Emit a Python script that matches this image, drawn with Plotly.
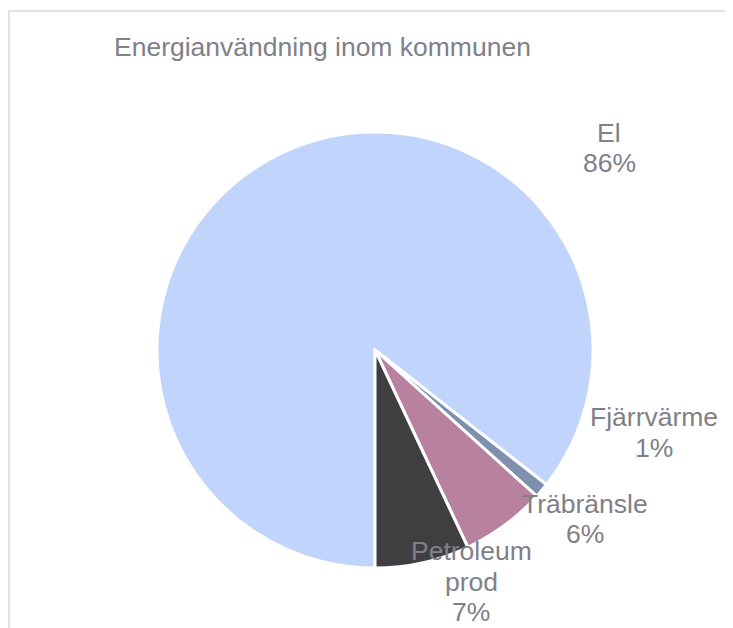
import plotly.graph_objects as go

# energy use by source (share of total, %), listed clockwise from 6 o'clock
labels = ["El", "Fjärrvärme", "Träbränsle", "Petroleum prod"]
label_lines = [["El"], ["Fjärrvärme"], ["Träbränsle"], ["Petroleum", "prod"]]
values = [85.6, 1.1, 6.3, 7.0]
colors = ["#c0d4fc", "#7f8fae", "#b7819f", "#3f3f42"]

title = "Energianvändning inom kommunen"

# page has an 8px body margin, so the figure is drawn 8px smaller
W, H = 725, 620
text_color = "#808089"
font = "Liberation Sans, Arial, sans-serif"
fsize = 26.5
line_gap = 30.5

# label anchor points in pixels (x centre, y of the last line)
label_pos = [(601, 155), (646, 440), (577, 526), (463, 604)]

cx, cy, r = 367, 342, 218

fig = go.Figure()
fig.add_trace(go.Pie(
    labels=labels,
    values=values,
    sort=False,
    direction="clockwise",
    rotation=180,
    marker=dict(colors=colors, line=dict(color="white", width=3)),
    textinfo="none",
    hoverinfo="label+percent",
    showlegend=False,
    domain=dict(x=[(cx - r) / W, (cx + r) / W],
                y=[(H - cy - r) / H, (H - cy + r) / H]),
))

total = sum(values)
annotations = [dict(
    text=title, x=104 / W, y=(H - 39) / H, xref="paper", yref="paper",
    xanchor="left", yanchor="middle", showarrow=False,
    font=dict(family=font, size=fsize, color=text_color),
)]
for lines, v, (px, py) in zip(label_lines, values, label_pos):
    rows = lines + [f"{round(v / total * 100)}%"]
    for i, row in enumerate(rows):
        yy = py - (len(rows) - 1 - i) * line_gap
        annotations.append(dict(
            text=row, x=px / W, y=(H - yy) / H, xref="paper", yref="paper",
            xanchor="center", yanchor="middle", showarrow=False,
            font=dict(family=font, size=fsize, color=text_color),
        ))

# chart frame: only the top and left edges are inside the window
frame = dict(color="#d9d9d9", width=1.5)
top = (H - 3) / H
fig.update_layout(
    width=W, height=H,
    margin=dict(l=0, r=0, t=0, b=0),
    paper_bgcolor="white",
    plot_bgcolor="white",
    annotations=annotations,
    shapes=[
        dict(type="line", xref="paper", yref="paper",
             x0=1 / W, x1=1, y0=top, y1=top, line=frame),
        dict(type="line", xref="paper", yref="paper",
             x0=1 / W, x1=1 / W, y0=0, y1=top, line=frame),
    ],
)

fig.write_html("out.html", config={"displayModeBar": False})
